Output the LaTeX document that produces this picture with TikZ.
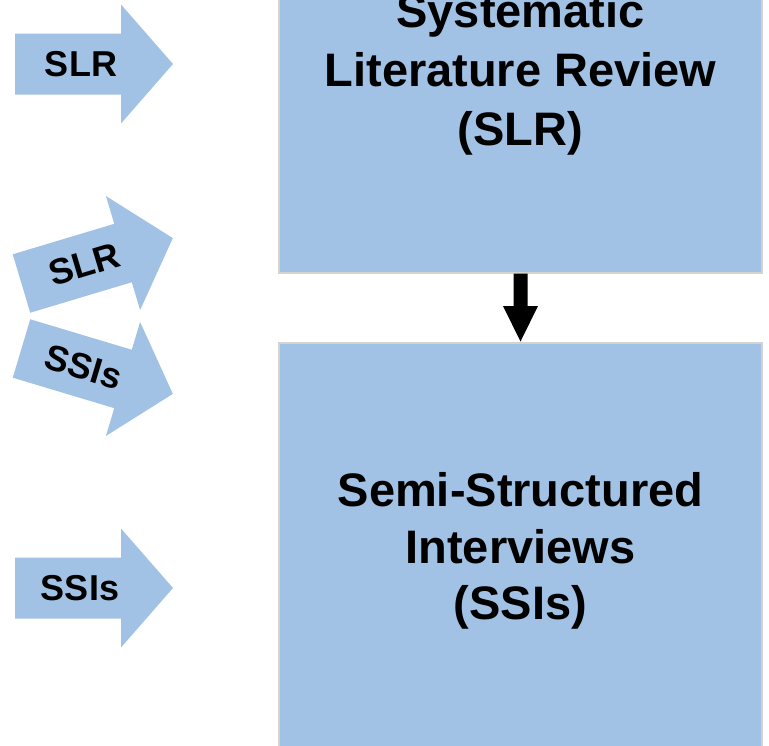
\documentclass[tikz,border=0pt]{standalone}
\usepackage{fontspec}
\setmainfont{Liberation Sans}
\usetikzlibrary{calc}
\definecolor{boxblue}{RGB}{161,194,228}
\definecolor{boxedge}{RGB}{214,211,204}
\tikzset{
  box/.style={rectangle, fill=boxblue, draw=boxedge, line width=2pt, align=center, inner sep=0pt},
  arrowfill/.style={fill=boxblue},
  lbl/.style={font=\fontsize{36}{40}\selectfont\bfseries, inner sep=0pt, transform shape},
}
\begin{document}
\begin{tikzpicture}[x=1pt,y=-1pt]
\useasboundingbox (0,0) rectangle (769,745);
\clip (0,0) rectangle (769,745);
% main boxes
\node[box, minimum width=483pt, minimum height=395.2pt,
      font=\fontsize{47}{59}\selectfont\bfseries] (slr) at (520.5,74.9)
  {\strut Systematic\\\strut Literature Review\\\strut (SLR)};
\node[box, minimum width=483pt, minimum height=419pt,
      font=\fontsize{47}{56.5}\selectfont\bfseries] (ssi) at (520.5,552)
  {\strut Semi-Structured\\\strut Interviews\\\strut (SSIs)};
% connector
\fill[black] ($(slr.south)+(-7,0)$) -- ($(slr.south)+(-7,32.5)$) -- ($(slr.south)+(-17.5,32.5)$)
  -- (ssi.north) -- ($(slr.south)+(17.5,32.5)$) -- ($(slr.south)+(7,32.5)$) -- ($(slr.south)+(7,0)$) -- cycle;
% side arrows
\begin{scope}[shift={(15,64)}]
  \fill[arrowfill] (0,-30.5) -- (106,-30.5) -- (106,-59.5) -- (158,0) -- (106,59.5) -- (106,30.5) -- (0,30.5) -- cycle;
  \node[lbl] (a1) at (66,0) {SLR};
\end{scope}
\begin{scope}[shift={(21.5,283.5)}, rotate=16.7]
  \fill[arrowfill] (0,-30.5) -- (106,-30.5) -- (106,-59.5) -- (158,0) -- (106,59.5) -- (106,30.5) -- (0,30.5) -- cycle;
  \node[lbl] (a2) at (66,0) {SLR};
\end{scope}
\begin{scope}[shift={(21.5,348.5)}, rotate=-16.7]
  \fill[arrowfill] (0,-30.5) -- (106,-30.5) -- (106,-59.5) -- (158,0) -- (106,59.5) -- (106,30.5) -- (0,30.5) -- cycle;
  \node[lbl] (a3) at (65,0) {SSIs};
\end{scope}
\begin{scope}[shift={(15,588)}]
  \fill[arrowfill] (0,-30.5) -- (106,-30.5) -- (106,-59.5) -- (158,0) -- (106,59.5) -- (106,30.5) -- (0,30.5) -- cycle;
  \node[lbl] (a4) at (65,0) {SSIs};
\end{scope}
\end{tikzpicture}
\end{document}
